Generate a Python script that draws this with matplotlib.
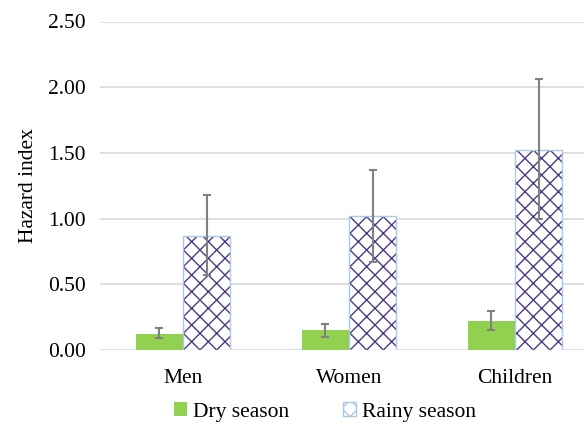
import numpy as np
import matplotlib.pyplot as plt
from matplotlib.patches import Patch

plt.rcParams['font.family'] = ['Liberation Serif', 'DejaVu Serif']
plt.rcParams['hatch.linewidth'] = 1.0

# =================== Data ===================
groups = ['Men', 'Women', 'Children']
dry = [0.12, 0.15, 0.22]
dry_lo = [0.09, 0.10, 0.15]
dry_hi = [0.17, 0.20, 0.30]
rainy = [0.87, 1.02, 1.52]
rainy_lo = [0.57, 0.67, 1.00]
rainy_hi = [1.18, 1.37, 2.06]
yticks = [0.0, 0.5, 1.0, 1.5, 2.0, 2.5]

green = '#92D050'
purple = '#4B3A86'
edge_blue = '#A9C8EA'
err_col = '#808080'

fig = plt.figure(figsize=(5.84, 4.30), dpi=100)
ax = fig.add_axes([100 / 584, 1 - 350 / 430, 498 / 584, 328.5 / 430])

x = np.arange(len(groups))
w = 0.285

dry_err = [np.array(dry) - np.array(dry_lo), np.array(dry_hi) - np.array(dry)]
rainy_err = [np.array(rainy) - np.array(rainy_lo), np.array(rainy_hi) - np.array(rainy)]

ax.bar(x - w / 2, dry, w, color=green, zorder=3)
# hatch drawn with purple, outline drawn separately in light blue
ax.bar(x + w / 2, rainy, w, color='white', edgecolor=purple, hatch='xx',
       linewidth=0, zorder=3)
ax.bar(x + w / 2, rainy, w, fill=False, edgecolor=edge_blue, linewidth=1.0, zorder=4)

ax.errorbar(x - w / 2, dry, yerr=dry_err, fmt='none', ecolor=err_col,
            elinewidth=1.5, capsize=3, capthick=1.5, zorder=5)
ax.errorbar(x + w / 2, rainy, yerr=rainy_err, fmt='none', ecolor=err_col,
            elinewidth=1.5, capsize=3, capthick=1.5, zorder=5)

ax.set_xlim(-0.5, len(groups) - 0.5)
ax.set_ylim(0, 2.5)
ax.set_yticks(yticks)
ax.set_yticklabels([f'{t:.2f}' for t in yticks], fontsize=15.5)
ax.set_xticks(x)
ax.set_xticklabels(groups, fontsize=15.5)
ax.tick_params(length=0, pad=10)
ax.tick_params(axis='x', pad=14)
ax.yaxis.grid(True, color='#D9D9D9', linewidth=1.2, zorder=0)
ax.set_axisbelow(True)
for s in ax.spines.values():
    s.set_visible(False)
ax.set_ylabel('Hazard index', fontsize=15.5, labelpad=8)
ax.yaxis.set_label_coords(-62 / 498, 0.5)

handles = [Patch(facecolor=green, edgecolor='none', label='Dry season'),
           Patch(facecolor='white', edgecolor=edge_blue, hatch='xx', label='Rainy season')]
fig.legend(handles=handles, loc='center', bbox_to_anchor=(325 / 584, 1 - 412 / 430),
           ncol=2, frameon=False, fontsize=15.5, handlelength=0.6, handleheight=0.6,
           handletextpad=0.3, columnspacing=2.5)

fig.savefig('out.png', dpi=100)
